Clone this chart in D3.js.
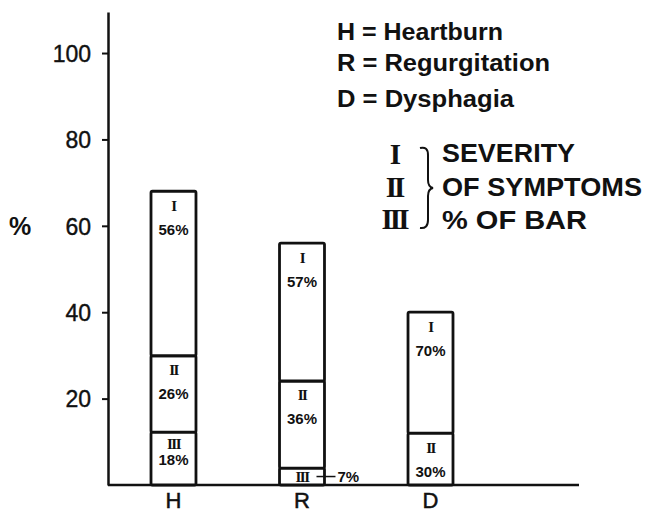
<!DOCTYPE html>
<html>
<head>
<meta charset="utf-8">
<script src="https://cdn.jsdelivr.net/npm/d3@7"></script>
<style>
  body { margin: 0; background: #fff; }
  text { fill: #111; }
</style>
</head>
<body>
<div id="viz"></div>
<script>
var categories = ['H', 'R', 'D'];
var totals = [68, 56, 40];              // bar height, % of patients
var severityNames = ['III', 'II', 'I']; // bottom to top
var severityShares = [                  // % of bar, bottom to top
  [18, 26, 56],
  [7, 36, 57],
  [0, 30, 70]
];
var yTicks = [20, 40, 60, 80, 100];
var legendLines = ['H = Heartburn', 'R = Regurgitation', 'D = Dysphagia'];
var severityLegend = ['SEVERITY', 'OF SYMPTOMS', '% OF BAR'];

var width = 645, height = 513;

var svg = d3.select('#viz')
  .append('svg')
  .attr('width', width)
  .attr('height', height)
  .style('background', '#fff');

var yScale = d3.scaleLinear()
  .domain([0, 109.5])
  .range([485, 12]);

var xScale = d3.scaleBand()
  .domain(categories)
  .range([86.75, 517.25])
  .paddingInner(0.65)
  .paddingOuter(0.5);

var axisX = 108;
var sans = 'Liberation Sans, Arial, sans-serif';
var serif = 'Liberation Serif, serif';

// y axis
var yAxis = d3.axisLeft(yScale)
  .tickValues(yTicks)
  .tickSize(6)
  .tickSizeOuter(0)
  .tickPadding(11);

var yG = svg.append('g')
  .attr('transform', 'translate(' + axisX + ',0)')
  .call(yAxis);
yG.select('.domain').attr('stroke', '#111').attr('stroke-width', 2.5);
yG.selectAll('.tick line').attr('stroke', '#111').attr('stroke-width', 2);
yG.selectAll('.tick text')
  .attr('font-family', sans)
  .attr('font-size', 23)
  .attr('dy', '0.36em')
  .style('fill', '#111')
  .style('stroke', '#111')
  .style('stroke-width', 0.4);

svg.append('text')
  .attr('x', 9)
  .attr('y', yScale(60))
  .attr('dy', '0.36em')
  .attr('font-family', sans)
  .attr('font-weight', 'bold')
  .attr('font-size', 25)
  .text('%');

// baseline
svg.append('line')
  .attr('x1', axisX)
  .attr('x2', 579)
  .attr('y1', yScale(0))
  .attr('y2', yScale(0))
  .attr('stroke', '#111')
  .attr('stroke-width', 2.5);

// x labels
var xAxis = d3.axisBottom(xScale).tickSize(0).tickPadding(7);
var xG = svg.append('g')
  .attr('transform', 'translate(0,' + yScale(0) + ')')
  .call(xAxis);
xG.select('.domain').remove();
xG.selectAll('.tick text')
  .attr('font-family', sans)
  .attr('font-size', 22)
  .style('fill', '#111')
  .style('stroke', '#111')
  .style('stroke-width', 0.5);

// stacked segments
var segments = [];
categories.forEach(function(c, i) {
  var base = 0;
  severityShares[i].forEach(function(s, j) {
    if (s === 0) return;
    var v = totals[i] * s / 100;
    segments.push({cat: c, name: severityNames[j], share: s, y0: base, y1: base + v});
    base += v;
  });
});

var bars = svg.append('g');
bars.selectAll('rect')
  .data(segments)
  .enter().append('rect')
  .attr('x', function(d) { return xScale(d.cat); })
  .attr('width', xScale.bandwidth())
  .attr('y', function(d) { return yScale(d.y1); })
  .attr('height', function(d) { return yScale(d.y0) - yScale(d.y1); })
  .attr('fill', '#fff')
  .attr('stroke', '#111')
  .attr('stroke-width', 2.8)
  .attr('rx', 1.5);

var cx = function(d) { return xScale(d.cat) + xScale.bandwidth() / 2; };

// segment labels; a very small segment gets its percent outside with a leader
var small = function(d) { return yScale(d.y0) - yScale(d.y1) < 25; };

bars.selectAll('text.num')
  .data(segments)
  .enter().append('text')
  .attr('class', 'num')
  .attr('x', cx)
  .attr('y', function(d) {
    return small(d) ? (yScale(d.y0) + yScale(d.y1)) / 2 : yScale(d.y1) + (d.name === 'III' ? 11 : 14);
  })
  .attr('dy', '0.36em')
  .attr('text-anchor', 'middle')
  .attr('font-family', serif)
  .attr('font-weight', 'bold')
  .attr('font-size', 15)
  .attr('letter-spacing', -1.5)
  .text(function(d) { return d.name; });

bars.selectAll('text.pct')
  .data(segments)
  .enter().append('text')
  .attr('class', 'pct')
  .attr('x', function(d) { return small(d) ? xScale(d.cat) + xScale.bandwidth() + 13 : cx(d); })
  .attr('y', function(d) {
    if (small(d)) return (yScale(d.y0) + yScale(d.y1)) / 2;
    return yScale(d.y1) + (d.name === 'III' ? 27 : 38);
  })
  .attr('dy', '0.36em')
  .attr('text-anchor', function(d) { return small(d) ? 'start' : 'middle'; })
  .attr('font-family', sans)
  .attr('font-weight', 'bold')
  .attr('font-size', 15)
  .text(function(d) { return d.share + '%'; });

bars.selectAll('line.leader')
  .data(segments.filter(small))
  .enter().append('line')
  .attr('x1', function(d) { return xScale(d.cat) + xScale.bandwidth() - 8; })
  .attr('x2', function(d) { return xScale(d.cat) + xScale.bandwidth() + 11; })
  .attr('y1', function(d) { return (yScale(d.y0) + yScale(d.y1)) / 2; })
  .attr('y2', function(d) { return (yScale(d.y0) + yScale(d.y1)) / 2; })
  .attr('stroke', '#111')
  .attr('stroke-width', 1.5);

// legend: abbreviations
svg.append('g').selectAll('text')
  .data(legendLines)
  .enter().append('text')
  .attr('x', 337)
  .attr('y', function(d, i) { return [40, 71, 107][i]; })
  .attr('font-family', sans)
  .attr('font-size', 23)
  .attr('font-weight', 'bold')
  .attr('textLength', function(d, i) { return [166, 213, 177][i]; })
  .attr('lengthAdjust', 'spacingAndGlyphs')
  .text(function(d) { return d; });

// legend: severity
var sevG = svg.append('g');
sevG.selectAll('text.rn')
  .data(severityNames.slice().reverse())
  .enter().append('text')
  .attr('class', 'rn')
  .attr('x', 394)
  .attr('y', function(d, i) { return [164, 197, 229][i]; })
  .attr('text-anchor', 'middle')
  .attr('font-family', serif)
  .attr('font-weight', 'bold')
  .attr('font-size', 29)
  .attr('letter-spacing', -3)
  .text(function(d) { return d; });

sevG.append('path')
  .attr('d', 'M420,148 Q428,146 428,155 L428,180 Q428,187 433,188 Q428,189 428,196 L428,220 Q428,229 420,228')
  .attr('fill', 'none')
  .attr('stroke', '#111')
  .attr('stroke-width', 2);

sevG.selectAll('text.sv')
  .data(severityLegend)
  .enter().append('text')
  .attr('class', 'sv')
  .attr('x', 442)
  .attr('y', function(d, i) { return [162, 196, 229][i]; })
  .attr('font-family', sans)
  .attr('font-weight', 'bold')
  .attr('font-size', 25)
  .attr('textLength', function(d, i) { return [133, 200, 145][i]; })
  .attr('lengthAdjust', 'spacingAndGlyphs')
  .text(function(d) { return d; });
</script>
</body>
</html>
